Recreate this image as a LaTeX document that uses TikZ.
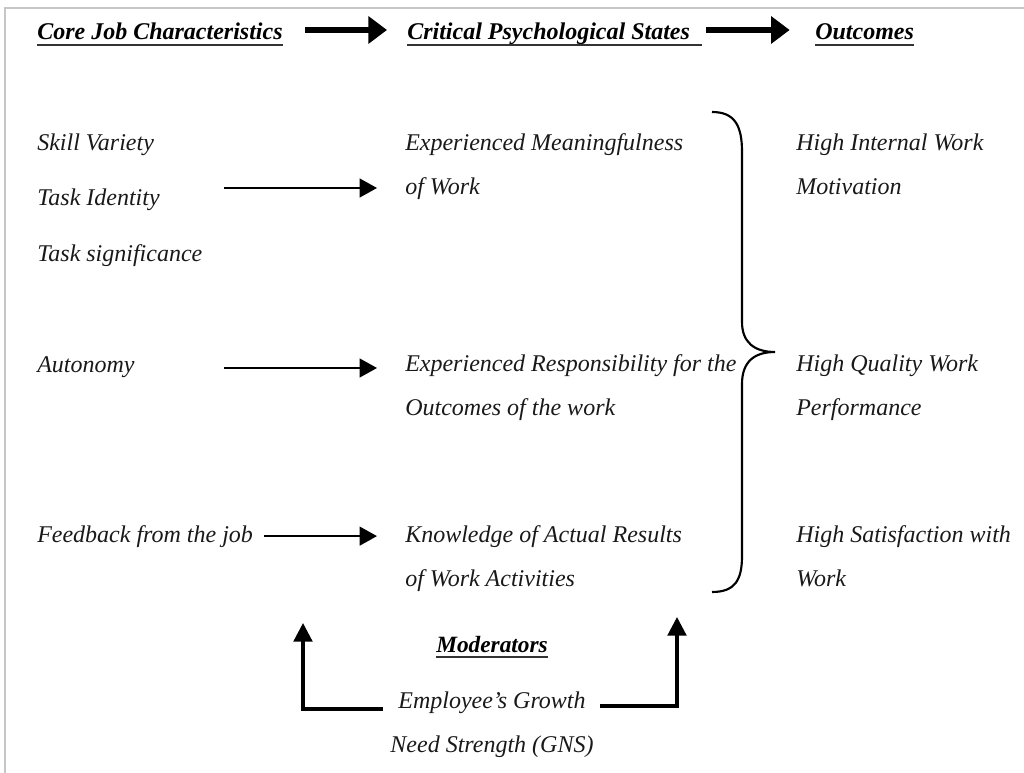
\documentclass[tikz,border=0pt]{standalone}
\usepackage{fontspec}
\setmainfont{Liberation Serif}
\usetikzlibrary{arrows.meta}

\tikzset{
  txt/.style={anchor=base west, inner sep=0pt, align=left,
    font=\fontsize{18}{33}\selectfont\itshape, text=black!90},
  head/.style={anchor=base west, inner sep=0pt,
    font=\fontsize{18}{22}\selectfont\bfseries\itshape},
  uline/.style={line width=1.6pt, black!80},
  arr/.style={line width=1.6pt, -{Triangle[length=13pt, width=14pt]}},
  bigarr/.style={line width=4.5pt, -{Triangle[length=14pt, width=20pt]}},
  modarr/.style={line width=2.4pt, -{Triangle[length=14pt, width=14pt]}}
}

\begin{document}
\begin{tikzpicture}[x=0.75pt, y=-0.75pt]
	\useasboundingbox (0,0) rectangle (1024,773);
	\draw[gray!45, line width=1.5pt] (5,773) -- (5,8) -- (1024,8);

	% headings
	\node[head] (hcore) at (37,40) {Core Job Characteristics};
	\node[head] (hcrit) at (407,40) {Critical Psychological States};
	\node[head] (hout) at (815,40) {Outcomes};
	\draw[uline] ([yshift=-4pt]hcore.base west) -- ([yshift=-4pt]hcore.base east);
	\draw[uline] ([yshift=-4pt]hcrit.base west) -- ([yshift=-4pt, xshift=9pt]hcrit.base east);
	\draw[uline] ([yshift=-4pt]hout.base west) -- ([yshift=-4pt]hout.base east);

	\coordinate (h1) at (305,30);
	\coordinate (h2) at (706,30);
	\draw[bigarr] (h1) -- ([xshift=-15pt]h1 -| hcrit.west);
	\draw[bigarr] (h2) -- ([xshift=-19pt]h2 -| hout.west);

	% core job characteristics
	\node[txt] (sv) at (37,151) {Skill Variety};
	\node[txt] (ti) at (37,206) {Task Identity};
	\node[txt] (ts) at (37,262) {Task significance};
	\node[txt] (au) at (37,373) {Autonomy};
	\node[txt] (fb) at (37,542) {Feedback from the job};

	% psychological states (base = last line)
	\node[txt] (mean) at (405,195) {Experienced Meaningfulness\\of Work};
	\node[txt] (resp) at (405,416) {Experienced Responsibility for the\\Outcomes of the work};
	\node[txt] (know) at (405,586) {Knowledge of Actual Results\\of Work Activities};

	% outcomes
	\node[txt] (mot) at (796,195) {High Internal Work\\Motivation};
	\node[txt] (perf) at (796,416) {High Quality Work\\Performance};
	\node[txt] (sat) at (796,586) {High Satisfaction with\\Work};

	\coordinate (a1) at (224,188);
	\coordinate (a2) at (224,368);
	\draw[arr] (a1) -- ([xshift=-21pt]a1 -| mean.west);
	\draw[arr] (a2) -- ([xshift=-21pt]a2 -| resp.west);
	\draw[arr, shorten <=8pt] (fb.east) -- ([xshift=-21pt]fb.east -| know.west);

	% brace
	\draw[line width=1.6pt] (712,112) .. controls (735,112) and (742,126) .. (742,152)
		-- (742,322) .. controls (742,342) and (754,352) .. (775,352)
		.. controls (754,352) and (742,362) .. (742,384)
		-- (742,556) .. controls (742,580) and (735,592) .. (712,592);

	% moderators
	\node[head, anchor=base, font=\fontsize{17.5}{22}\selectfont\bfseries\itshape] (mod) at (492,652) {Moderators};
	\draw[uline] ([yshift=-4pt]mod.base west) -- ([yshift=-4pt]mod.base east);
	\node[txt, anchor=base, align=center] (gns) at (492,752) {Employee’s Growth\\Need Strength (GNS)};

	\coordinate (m1) at (383,709);
	\coordinate (m1t) at (303,623);
	\coordinate (m2) at (600,706);
	\coordinate (m2t) at (677,617);
	\draw[modarr] (m1) -| (m1t);
	\draw[modarr] (m2) -| (m2t);
\end{tikzpicture}
\end{document}
